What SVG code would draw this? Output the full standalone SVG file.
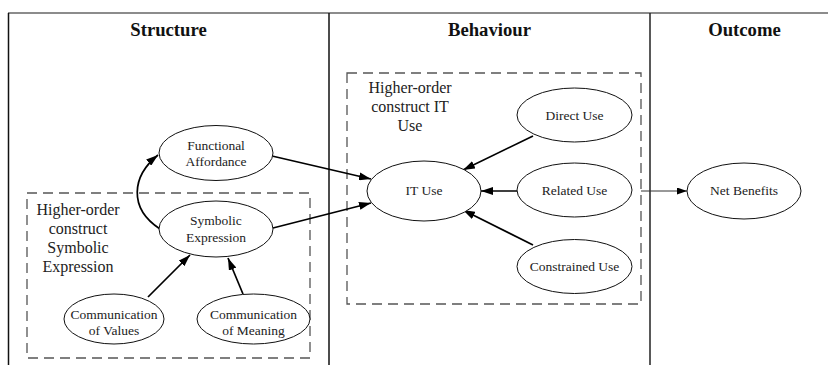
<svg xmlns="http://www.w3.org/2000/svg" width="828" height="365" viewBox="0 0 828 365">
<defs>
<style>
.hdr{font-family:"Liberation Serif","Times New Roman",serif;font-weight:bold;font-size:18.7px;fill:#111;text-anchor:middle}
.lbl{font-family:"Liberation Serif","Times New Roman",serif;font-size:13.5px;fill:#222;text-anchor:middle}
.grp{font-family:"Liberation Serif","Times New Roman",serif;font-size:16px;fill:#222;text-anchor:middle}
.node{fill:#fff;stroke:#111;stroke-width:1}
.dash{fill:none;stroke:#555;stroke-width:1.3;stroke-dasharray:10 6}
.edge{fill:none;stroke:#000;stroke-width:1.7}
.thin{fill:none;stroke:#333;stroke-width:1}
</style>
<marker id="ah" viewBox="0 0 12 8" refX="12" refY="4" markerWidth="12" markerHeight="8" markerUnits="userSpaceOnUse" orient="auto">
<path d="M0,0 L12,4 L0,8 Z" fill="#000"/>
</marker>
<marker id="ahs" viewBox="0 0 10 7" refX="10" refY="3.5" markerWidth="10" markerHeight="7" markerUnits="userSpaceOnUse" orient="auto">
<path d="M0,0 L10,3.5 L0,7 Z" fill="#000"/>
</marker>
</defs>
<rect x="0" y="0" width="828" height="365" fill="#fff"/>
<g id="table">
<line x1="8" y1="13" x2="828" y2="13" stroke="#666" stroke-width="1.5"/>
<line x1="8.5" y1="13" x2="8.5" y2="365" stroke="#111" stroke-width="1.5"/>
<line x1="329" y1="13" x2="329" y2="365" stroke="#111" stroke-width="1.5"/>
<line x1="650" y1="13" x2="650" y2="365" stroke="#222" stroke-width="1.5"/>
<text class="hdr" x="168.5" y="36">Structure</text>
<text class="hdr" x="489.5" y="36">Behaviour</text>
<text class="hdr" x="744.5" y="36">Outcome</text>
</g>
<g id="group-symbolic">
<rect class="dash" x="27" y="193" width="283" height="165"/>
<text class="grp" x="78" y="215">Higher-order</text>
<text class="grp" x="78" y="234">construct</text>
<text class="grp" x="78" y="253">Symbolic</text>
<text class="grp" x="78" y="272">Expression</text>
</g>
<g id="group-ituse">
<rect class="dash" x="347" y="73" width="294" height="231"/>
<text class="grp" x="410" y="93">Higher-order</text>
<text class="grp" x="410" y="112">construct IT</text>
<text class="grp" x="410" y="131">Use</text>
</g>
<g id="connectors">
<path class="edge" d="M160,229 C128,208 132,176 158,155" marker-end="url(#ah)"/>
<line class="edge" x1="272" y1="156" x2="371" y2="179" marker-end="url(#ah)"/>
<line class="edge" x1="273" y1="228" x2="371" y2="203" marker-end="url(#ah)"/>
<line class="edge" x1="148" y1="297" x2="190" y2="255" marker-end="url(#ah)"/>
<line class="edge" x1="243" y1="294" x2="228" y2="258" marker-end="url(#ah)"/>
<line class="edge" x1="533" y1="136" x2="463" y2="170" marker-end="url(#ah)"/>
<line class="edge" x1="517" y1="191" x2="481" y2="191" marker-end="url(#ah)"/>
<line class="edge" x1="533" y1="245" x2="463" y2="210" marker-end="url(#ah)"/>
<line class="thin" x1="641" y1="191" x2="687" y2="191" marker-end="url(#ahs)"/>
</g>
<g id="n-functional">
<ellipse class="node" cx="216" cy="153" rx="57" ry="27.5"/>
<text class="lbl" x="216" y="150">Functional</text>
<text class="lbl" x="216" y="166">Affordance</text>
</g>
<g id="n-symbolic">
<ellipse class="node" cx="216" cy="229" rx="57" ry="28"/>
<text class="lbl" x="216" y="225">Symbolic</text>
<text class="lbl" x="216" y="241.5">Expression</text>
</g>
<g id="n-values">
<ellipse class="node" cx="114" cy="319" rx="50" ry="25"/>
<text class="lbl" x="114" y="319">Communication</text>
<text class="lbl" x="114" y="335">of Values</text>
</g>
<g id="n-meaning">
<ellipse class="node" cx="253.5" cy="319" rx="56.5" ry="25"/>
<text class="lbl" x="253.5" y="319">Communication</text>
<text class="lbl" x="253.5" y="335">of Meaning</text>
</g>
<g id="n-ituse">
<ellipse class="node" cx="424" cy="191" rx="57" ry="30"/>
<text class="lbl" x="424" y="195">IT Use</text>
</g>
<g id="n-direct">
<ellipse class="node" cx="574.5" cy="115" rx="57.5" ry="27"/>
<text class="lbl" x="574.5" y="120">Direct Use</text>
</g>
<g id="n-related">
<ellipse class="node" cx="574.5" cy="190" rx="57.5" ry="27"/>
<text class="lbl" x="574.5" y="195">Related Use</text>
</g>
<g id="n-constrained">
<ellipse class="node" cx="574.5" cy="266.5" rx="57.5" ry="27"/>
<text class="lbl" x="574.5" y="271">Constrained Use</text>
</g>
<g id="n-net">
<ellipse class="node" cx="744" cy="191" rx="57" ry="28"/>
<text class="lbl" x="744" y="195">Net Benefits</text>
</g>
</svg>
